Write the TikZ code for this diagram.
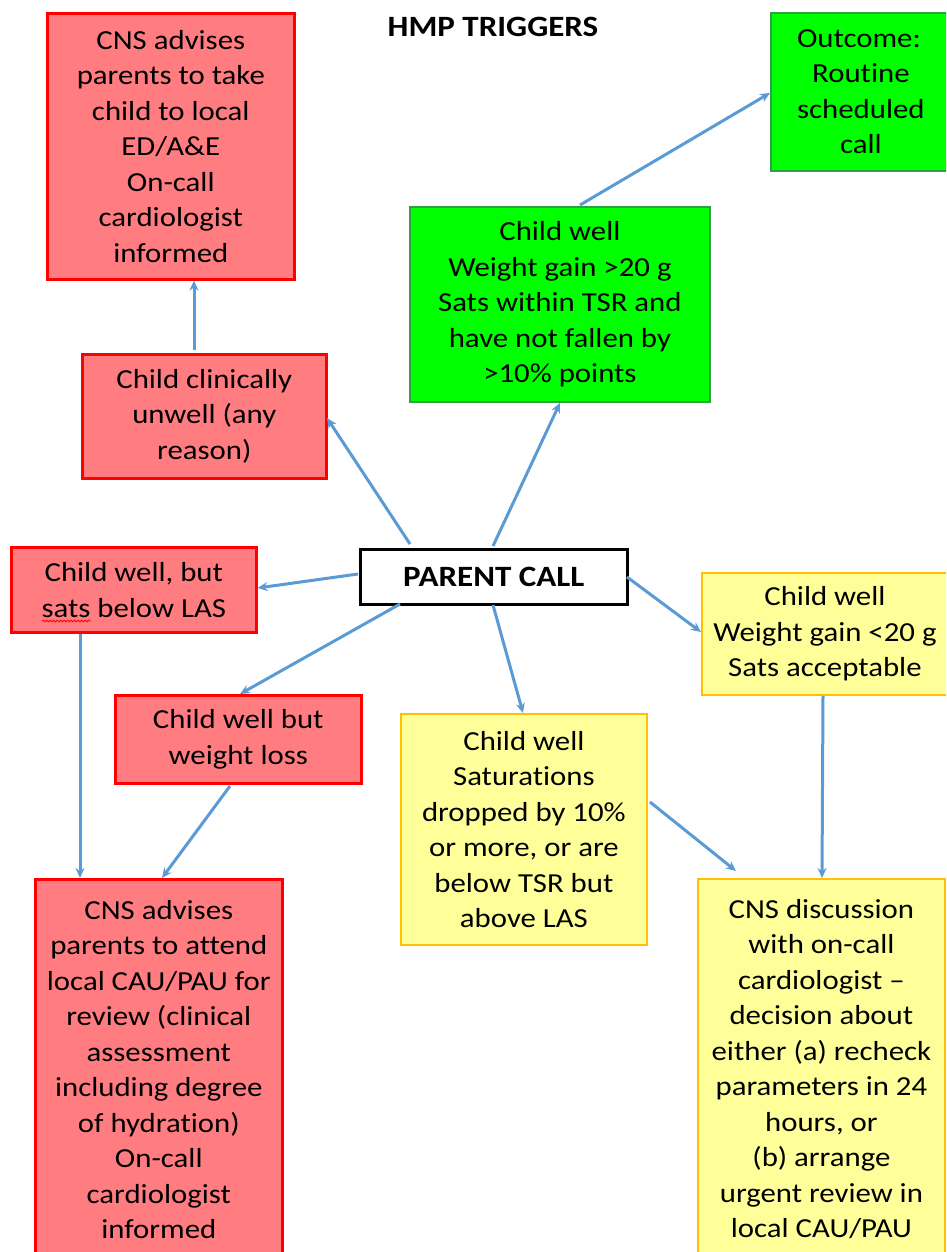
\documentclass[tikz,border=0pt]{standalone}
\usepackage{fontspec}
\setmainfont{Carlito}[FakeStretch=1.12, Ligatures=NoCommon]
\usetikzlibrary{arrows.meta,decorations.pathmorphing}
\definecolor{redfill}{HTML}{FF7C80}
\definecolor{redline}{HTML}{FF0000}
\definecolor{greenfill}{HTML}{00FF00}
\definecolor{greenline}{HTML}{2EA043}
\definecolor{yellowfill}{HTML}{FFFF99}
\definecolor{yellowline}{HTML}{FFC000}
\definecolor{arrowblue}{HTML}{5B9BD5}
\tikzset{
  box/.style={rectangle, anchor=north west, align=center, inner sep=0pt,
    font=\fontsize{27.5}{35.5}\selectfont},
  redbox/.style={box, fill=redfill, draw=redline, line width=2.6pt},
  greenbox/.style={box, fill=greenfill, draw=greenline, line width=1.8pt},
  yellowbox/.style={box, fill=yellowfill, draw=yellowline, line width=1.8pt},
  link/.style={draw=arrowblue, line width=3pt,
    -{Stealth[length=10pt,width=9pt]}},
}
\begin{document}
\begin{tikzpicture}[x=1pt,y=-1pt]
\useasboundingbox (0,0) rectangle (946,1252);
\clip (0,0) rectangle (946,1252);

\node[font=\fontsize{29.5}{34}\selectfont\bfseries] (title) at (493,27) {HMP TRIGGERS};

\node[redbox, minimum width=247pt, minimum height=266pt] (ed) at (46,12)
  {CNS advises\\parents to take\\child to local\\ED/A\&E\\On-call\\cardiologist\\informed};
\node[greenbox, minimum width=180pt, minimum height=158pt] (outcome) at (770,12)
  {\hspace*{-4pt}Outcome:\\Routine\\scheduled\\call};
\node[greenbox, minimum width=300pt, minimum height=195pt] (well) at (409,206)
  {Child well\\Weight gain >20 g\\Sats within TSR and\\have not fallen by\\>10\% points};
\node[redbox, minimum width=244pt, minimum height=124pt] (unwell) at (81,353)
  {Child clinically\\unwell (any\\reason)};
\node[box, draw=black, fill=white, line width=2.6pt, minimum width=267pt, minimum height=55pt,
  font=\fontsize{29.5}{34}\selectfont\bfseries] (call) at (359,548) {PARENT CALL};
\node[redbox, minimum width=245pt, minimum height=85pt] (las) at (10,546)
  {Child well, but\\sats below LAS};
\node[yellowbox, minimum width=246pt, minimum height=122pt] (gainlow) at (701,572)
  {Child well\\Weight gain <20 g\\Sats acceptable};
\node[redbox, minimum width=246pt, minimum height=88pt] (loss) at (114,694)
  {Child well but\\weight loss};
\node[yellowbox, minimum width=246pt, minimum height=231pt] (drop) at (400,713)
  {Child well\\Saturations\\dropped by 10\%\\or more, or are\\below TSR but\\above LAS};
\node[redbox, minimum width=247pt, minimum height=380pt] (cau) at (34,878)
  {CNS advises\\parents to attend\\local CAU/PAU for\\review (clinical\\assessment\\including degree\\of hydration)\\On-call\\cardiologist\\informed};
\node[yellowbox, minimum width=247pt, minimum height=380pt] (discuss) at (697,878)
  {CNS discussion\\with on-call\\cardiologist --\\decision about\\either (a) recheck\\parameters in 24\\hours, or\\(b) arrange\\urgent review in\\local CAU/PAU};

% spell-check squiggle under "sats"
\draw[redline, line width=0.8pt, decorate,
  decoration={snake, amplitude=0.9pt, segment length=3.5pt}] (42,621) -- (91,621);

% connector end points
\coordinate (c-unwell) at (410,544);
\coordinate (c-well)   at (493,546);
\coordinate (c-las)    at (358,574);
\coordinate (c-loss)   at (400,604);
\coordinate (c-drop)   at (493,605);
\coordinate (c-gain)   at (627,577);
\coordinate (u-top)    at (194,350);
\coordinate (w-top)    at (580,205);
\coordinate (l-bot)    at (230,786);
\coordinate (d-side)   at (650,802);

% connectors
\draw[link] (u-top) -- (ed.south -| u-top);
\draw[link] (c-unwell) -- (327,418);
\draw[link] (c-well) -- (well.south -| 560,0);
\draw[link] (w-top) -- (outcome.west |- 0,93);
\draw[link] (c-las) -- (las.east |- 0,588);
\draw[link] (c-loss) -- (loss.north -| 240,0);
\draw[link] (c-drop) -- (drop.north -| 523,0);
\draw[link] (c-gain) -- (gainlow.west |- 0,632);
\draw[link] (las.south -| 80,0) -- (cau.north -| 80,0);
\draw[link] (l-bot) -- (cau.north -| 162,0);
\draw[link] (d-side) -- (736,871);
\draw[link] (gainlow.south -| 823,0) -- (discuss.north -| 822,0);
\end{tikzpicture}
\end{document}
